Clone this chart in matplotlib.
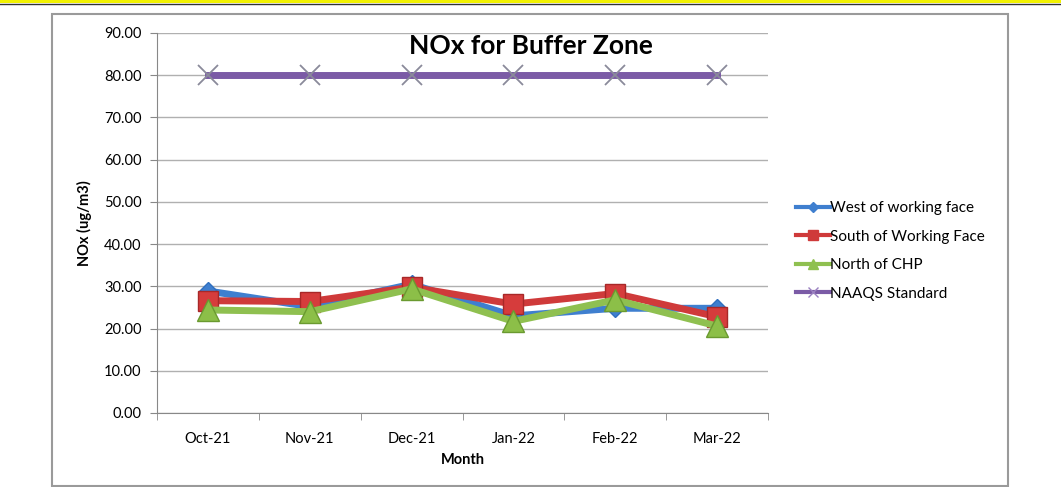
import matplotlib
matplotlib.use("Agg")
import matplotlib.pyplot as plt
from matplotlib.patches import Rectangle
from matplotlib.lines import Line2D

plt.rcParams['font.family'] = ['Lato', 'DejaVu Sans']

months = ["Oct-21", "Nov-21", "Dec-21", "Jan-22", "Feb-22", "Mar-22"]
west = [28.9, 25.2, 30.5, 23.0, 24.8, 24.8]
south = [26.6, 26.4, 29.8, 25.8, 28.3, 22.8]
north = [24.4, 24.0, 29.4, 21.7, 26.8, 20.6]
naaqs = [80, 80, 80, 80, 80, 80]
labels = ["West of working face", "South of Working Face", "North of CHP", "NAAQS Standard"]

fig = plt.figure(figsize=(10.61, 4.87), dpi=100)

# outer chart frame + yellow strip at top
fig.patches.append(Rectangle((0, 1 - 3 / 487), 1, 3 / 487, transform=fig.transFigure,
                             facecolor="#f2f200", edgecolor="none"))
fig.lines.append(Line2D([0, 1], [1 - 3.5 / 487] * 2, transform=fig.transFigure, color="#333333", lw=1))
fig.patches.append(Rectangle((52 / 1061, 1 / 487), 956 / 1061, 472 / 487, transform=fig.transFigure,
                             facecolor="none", edgecolor="#9a9a9a", lw=1.5))

ax = fig.add_axes([157 / 1061, 74 / 487, 611 / 1061, 380 / 487])
x = list(range(len(months)))

ax.plot(x, naaqs, color="#7b5ba6", lw=5, marker="x", ms=15, mec="#8a8a9a", mew=1.3, zorder=3)
ax.plot(x, west, color="#3f7fcf", lw=5, marker="D", ms=9, mfc="#3f7fcf", mec="#2f6fbf", zorder=3)
ax.plot(x, south, color="#cf3a3a", lw=5, marker="s", ms=15, mfc="#d63c3c", mec="#a82828", zorder=4)
ax.plot(x, north, color="#8fc050", lw=5, marker="^", ms=16, mfc="#8cbf48", mec="#6a9a30", zorder=5)

ax.set_xlim(-0.5, len(months) - 0.5)
ax.set_ylim(0, 90)
ax.set_yticks(range(0, 91, 10))
ax.set_yticklabels([f"{v:.2f}" for v in range(0, 91, 10)], fontsize=10.5)
ax.set_xticks(x)
ax.set_xticklabels(months, fontsize=10.5)
ax.set_xticks([i - 0.5 for i in range(len(months) + 1)], minor=True)
ax.tick_params(axis="x", which="major", length=0, pad=14)
ax.tick_params(axis="x", which="minor", length=5, color="#888888")
ax.tick_params(axis="y", length=5, color="#888888", pad=6)
ax.grid(axis="y", color="#b0b0b0", lw=1)
ax.set_axisbelow(True)
for s in ["top", "right"]:
    ax.spines[s].set_visible(False)
for s in ["left", "bottom"]:
    ax.spines[s].set_color("#888888")

ax.set_xlabel("Month", fontsize=10.5, fontweight="bold", labelpad=5)
ax.set_ylabel("NOx (ug/m3)", fontsize=10.5, fontweight="bold", labelpad=9)

fig.text(531 / 1061, 1 - 46 / 487, "NOx for Buffer Zone", fontsize=19, fontweight="bold",
         ha="center", va="center")

handles = [
    Line2D([], [], color="#3f7fcf", lw=3, marker="D", ms=5),
    Line2D([], [], color="#cf3a3a", lw=3, marker="s", ms=7),
    Line2D([], [], color="#8fc050", lw=3, marker="^", ms=7),
    Line2D([], [], color="#7b5ba6", lw=3, marker="x", ms=7, mec="#9a80c0"),
]
fig.legend(handles, labels, loc="center left", bbox_to_anchor=(790 / 1061, 1 - 251 / 487),
           frameon=False, fontsize=11, handlelength=2.2, handletextpad=0.05,
           labelspacing=0.95, borderaxespad=0)

fig.savefig("out.png", dpi=100)
